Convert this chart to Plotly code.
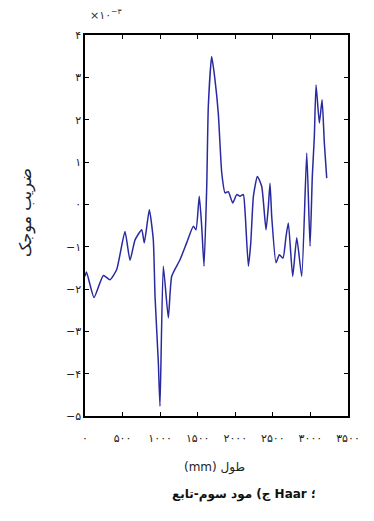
import plotly.graph_objects as go

# Position along the member (mm)
length_mm = [0, 20, 120, 244, 333, 422, 532, 599, 666, 755, 789, 856, 909, 932, 976, 998,
             1042, 1109, 1154, 1264, 1353, 1442, 1477, 1521, 1553, 1584, 1620, 1641, 1686,
             1730, 1774, 1820, 1864, 1907, 1966, 2019, 2063, 2107, 2130, 2174, 2206, 2241,
             2294, 2352, 2409, 2440, 2462, 2485, 2542, 2586, 2635, 2675, 2706, 2764, 2818,
             2884, 2951, 2995, 3025, 3052, 3075, 3119, 3155, 3185, 3217]
# Wavelet coefficient (x 10^-3)
coef_e3 = [-1.70, -1.60, -2.20, -1.68, -1.78, -1.54, -0.64, -1.32, -0.84, -0.60, -0.91,
           -0.13, -0.84, -2.17, -3.74, -4.77, -1.46, -2.68, -1.70, -1.31, -0.91, -0.52,
           -0.60, 0.19, -0.52, -1.46, 0.42, 2.31, 3.49, 2.94, 2.15, 0.74, 0.27, 0.30,
           0.03, 0.23, 0.19, 0.23, -0.17, -1.46, -0.91, 0.19, 0.66, 0.42, -0.60, -0.05,
           0.50, -0.29, -1.38, -1.19, -1.27, -0.76, -0.44, -1.70, -0.79, -1.70, 1.21,
           -0.99, 0.66, 1.60, 2.82, 1.92, 2.47, 1.45, 0.62]

x_ticks = [0, 500, 1000, 1500, 2000, 2500, 3000, 3500]
y_ticks = [-5, -4, -3, -2, -1, 0, 1, 2, 3, 4]

PERSIAN = str.maketrans("0123456789-", "۰۱۲۳۴۵۶۷۸۹−")


def fa(n):
    return str(n).translate(PERSIAN)


y_vals = [v * 1e-3 for v in coef_e3]

fig = go.Figure()
fig.add_trace(go.Scatter(
    x=length_mm, y=y_vals, mode="lines",
    line=dict(color="#2a2aa0", width=1.5, shape="spline", smoothing=0.5),
    showlegend=False, hoverinfo="skip"))

axis_common = dict(showline=True, linecolor="black", linewidth=1.5, mirror="ticks",
                   ticks="inside", ticklen=4, tickcolor="black", tickwidth=1.2,
                   showgrid=False, zeroline=False,
                   tickfont=dict(family="DejaVu Sans", size=11, color="#222"))

fig.update_xaxes(range=[0, 3500], tickvals=x_ticks, ticktext=[fa(t) for t in x_ticks],
                 ticklabelstandoff=11, **axis_common)
fig.update_yaxes(range=[-5e-3, 4e-3], tickvals=[t * 1e-3 for t in y_ticks],
                 ticktext=[fa(t) for t in y_ticks], **axis_common)

caption = "ج) مود سوم-تابع Haar ؛"
xtitle = "(mm) طول"

fig.update_layout(
    width=366, height=513,
    margin=dict(l=77, r=26, t=27, b=105),
    paper_bgcolor="white", plot_bgcolor="white",
    font=dict(family="DejaVu Sans", color="#222"),
    annotations=[
        dict(text="×۱۰<sup>−۳</sup>", xref="paper", yref="paper", x=0.01, y=1.055,
             xanchor="left", yanchor="middle", showarrow=False,
             font=dict(family="DejaVu Sans", size=11, color="#333")),
        dict(text="ضریب موجک", xref="paper", yref="paper", x=-0.225, y=0.535,
             xanchor="center", yanchor="middle", textangle=-90, showarrow=False,
             font=dict(family="DejaVu Sans", size=16, color="#222")),
        dict(text=xtitle, xref="paper", yref="paper", x=0.494, y=-0.134,
             xanchor="center", yanchor="middle", showarrow=False,
             font=dict(family="DejaVu Sans", size=12, color="#222")),
        dict(text=caption, xref="paper", yref="paper", x=0.605, y=-0.207,
             xanchor="center", yanchor="middle", showarrow=False,
             font=dict(family="DejaVu Sans", size=12, color="#111", weight="bold")),
    ],
)

fig.write_html("out.html")
